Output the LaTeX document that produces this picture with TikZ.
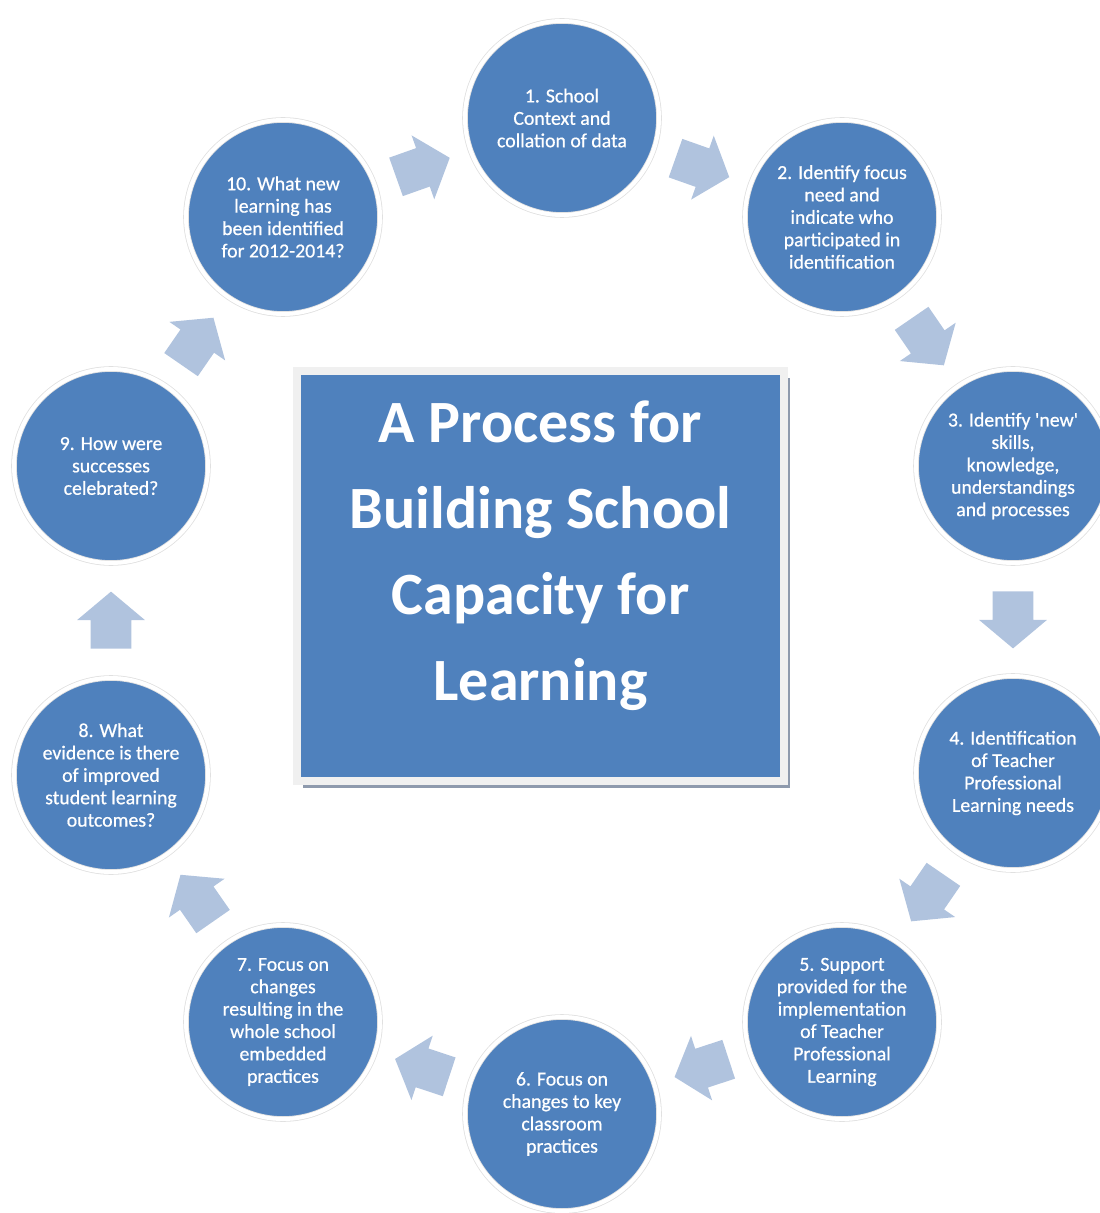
\documentclass[tikz,border=0pt]{standalone}
\usepackage{fontspec}
\setmainfont{Carlito}
\newfontfamily\stagefont{Carlito}[FakeBold=0.6]
\usetikzlibrary{calc,shapes.arrows,shadows}
\definecolor{stageblue}{HTML}{4F81BD}
\definecolor{arrowblue}{HTML}{B0C3DE}
\definecolor{framegray}{HTML}{F0F0F0}
\definecolor{shadowgray}{HTML}{8E9AAD}
\tikzset{
  stage/.style={circle,fill=stageblue,draw=black!12,double=white,double distance=2pt,
    line width=0.4pt,minimum size=97pt,inner sep=0pt,align=center,text=white,
    font=\stagefont\fontsize{9.9}{11.2}\selectfont},
  titlebox/.style={rectangle,fill=stageblue,draw=framegray,line width=4pt,
    minimum width=243.5pt,minimum height=205pt,
    drop shadow={shadow xshift=3pt,shadow yshift=-3.5pt,fill=shadowgray,opacity=1}},
  titletext/.style={align=center,text=white,font=\fontsize{30}{43}\selectfont\bfseries},
  flowarrow/.style={single arrow,fill=arrowblue,draw=none,inner xsep=0pt,inner ysep=10pt,
    single arrow head extend=6.75pt,single arrow tip angle=100,
    minimum height=28.5pt,anchor=tail}
}

\begin{document}
\begin{tikzpicture}[x=0.5pt,y=-0.5pt]
\useasboundingbox (0,0) rectangle (1099,1213);
% centre panel
\node[titlebox] (box) at (540.5,576) {};
\node[titletext] (title) at (540.5,556) {A Process for\\Building School\\Capacity for\\Learning};
% the ten stages of the cycle
\node[stage] (ctx) at (562,118) {1. School\\Context and\\collation of data};
\node[stage] (focus) at (842,217) {2. Identify focus\\need and\\indicate who\\participated in\\identification};
\node[stage] (skills) at (1013,466) {3. Identify \textquotesingle new\textquotesingle\\skills,\\knowledge,\\understandings\\and processes};
\node[stage] (needs) at (1013,773) {4. Identification\\of Teacher\\Professional\\Learning needs};
\node[stage] (support) at (842,1022) {5. Support\\provided for the\\implementation\\of Teacher\\Professional\\Learning};
\node[stage] (class) at (562,1114) {6. Focus on\\changes to key\\classroom\\practices};
\node[stage] (whole) at (283,1022) {7. Focus on\\changes\\resulting in the\\whole school\\embedded\\practices};
\node[stage] (evid) at (111,775) {8. What\\evidence is there\\of improved\\student learning\\outcomes?};
\node[stage] (celeb) at (111,466) {9. How were\\successes\\celebrated?};
\node[stage] (newl) at (283,217) {10. What new\\learning has\\been identified\\for 2012-2014?};
% block arrows half way between neighbours
\foreach \a/\b in {ctx/focus,focus/skills,skills/needs,needs/support,support/class,
    class/whole,whole/evid,evid/celeb,celeb/newl,newl/ctx}
  \path let \p1=($(\b)-(\a)$),\n1={atan2(\y1,\x1)} in
    node[flowarrow,rotate=\n1] (a-\a) at ($(\a)!0.5!(\b)!-14.25pt!(\b)$) {};
\end{tikzpicture}
\end{document}
